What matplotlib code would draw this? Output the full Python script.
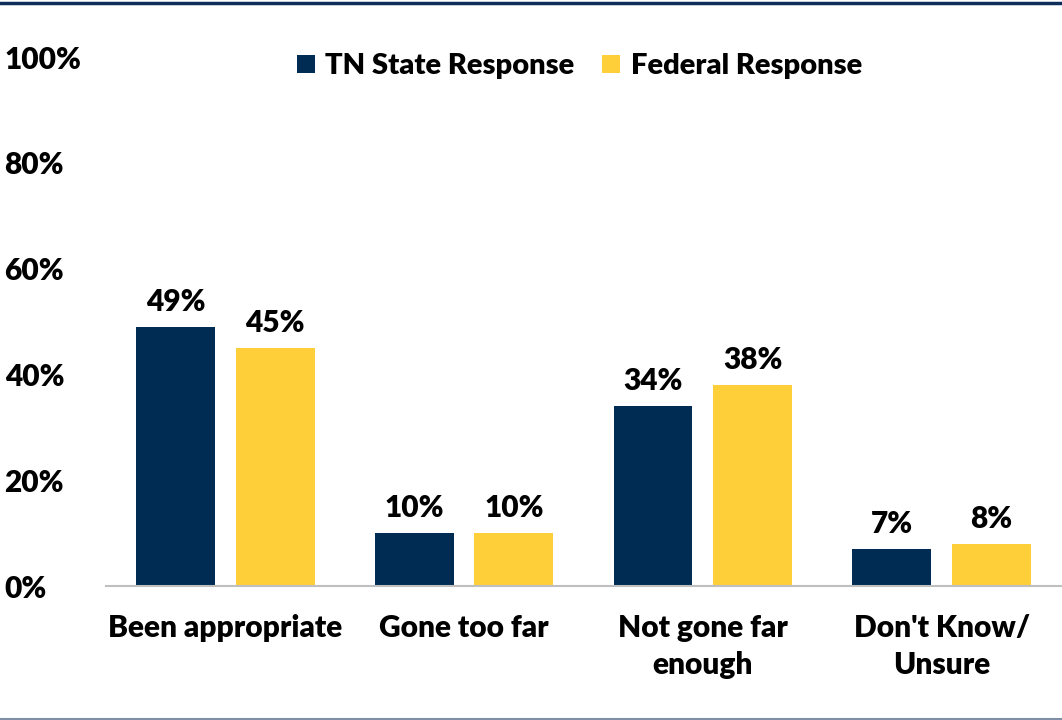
import matplotlib
matplotlib.use("Agg")
import matplotlib.pyplot as plt
from matplotlib.patches import Patch
from matplotlib.lines import Line2D
import numpy as np

categories = ["Been appropriate", "Gone too far", "Not gone far\nenough", "Don't Know/\nUnsure"]
series_names = ["TN State Response", "Federal Response"]
tn_state = [49, 10, 34, 7]
federal = [45, 10, 38, 8]
y_ticks = [0, 20, 40, 60, 80, 100]

NAVY = "#002B53"
GOLD = "#FFCF3A"
FONT = ["Lato", "DejaVu Sans"]
FS = 21.5
WT = "heavy"

plt.rcParams["font.family"] = FONT
plt.rcParams["font.weight"] = WT

fig = plt.figure(figsize=(10.62, 7.2), dpi=100)
ax = fig.add_axes([0.0998, 0.1861, 0.8992, 0.7347])

x = np.arange(len(categories))
w = 0.33
off = 0.2085
b1 = ax.bar(x - off, tn_state, w, color=NAVY, label=series_names[0])
b2 = ax.bar(x + off, federal, w, color=GOLD, label=series_names[1])

for bars, vals in ((b1, tn_state), (b2, federal)):
    for r, v in zip(bars, vals):
        ax.annotate(f"{v}%", (r.get_x() + r.get_width() / 2, v),
                    xytext=(0, 8), textcoords="offset points",
                    ha="center", va="bottom", fontsize=FS, fontweight=WT)

ax.set_xlim(-0.5, len(categories) - 0.5)
ax.set_ylim(0, 100)
ax.set_yticks(y_ticks)
ax.set_yticklabels([f"{t}%" for t in y_ticks], fontsize=FS, fontweight=WT)
ax.set_xticks(x)
ax.set_xticklabels(categories, fontsize=FS, fontweight=WT, linespacing=1.4)
ax.tick_params(axis="both", length=0)
ax.tick_params(axis="y", pad=73)
ax.tick_params(axis="x", pad=20)
for t in ax.get_yticklabels():
    t.set_horizontalalignment("left")
for s in ("top", "right", "left"):
    ax.spines[s].set_visible(False)
ax.spines["bottom"].set_color("#BFBFBF")
ax.spines["bottom"].set_linewidth(1.5)

handles = [Patch(facecolor=NAVY), Patch(facecolor=GOLD)]
fig.legend(handles, series_names, loc="center", bbox_to_anchor=(0.5455, 0.908),
           ncol=2, frameon=False, handlelength=0.62, handleheight=0.62,
           handletextpad=0.36, columnspacing=0.95,
           prop={"weight": WT, "size": 21, "family": FONT})

# frame rules at the top and bottom of the figure
fig.add_artist(Line2D([0, 1], [0.9965, 0.9965], transform=fig.transFigure,
                      color="#0D2E5A", linewidth=2.5))
fig.add_artist(Line2D([0, 1], [0.0015, 0.0015], transform=fig.transFigure,
                      color="#7F8FA6", linewidth=1.5))

fig.savefig("out.png", dpi=100)
